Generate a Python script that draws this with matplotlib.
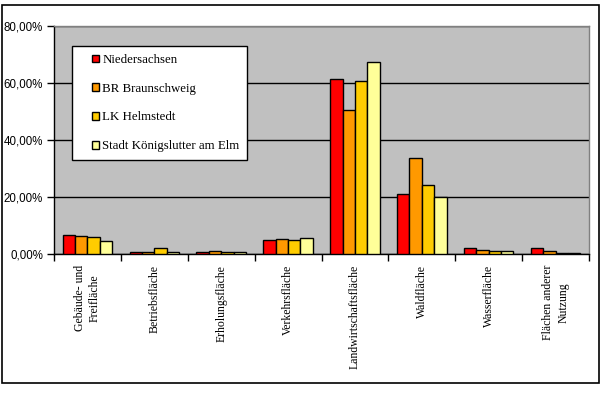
import numpy as np
import matplotlib
matplotlib.use("Agg")
import matplotlib.pyplot as plt
from matplotlib.patches import Rectangle
from matplotlib.container import BarContainer
from matplotlib.legend_handler import HandlerPatch, update_from_first_child
from matplotlib.ticker import FuncFormatter, FixedLocator

kategorien = ["Gebäude- und\nFreifläche", "Betriebsfläche", "Erholungsfläche",
              "Verkehrsfläche", "Landwirtschaftsfläche", "Waldfläche",
              "Wasserfläche", "Flächen anderer\nNutzung"]
serien = ["Niedersachsen", "BR Braunschweig", "LK Helmstedt", "Stadt Königslutter am Elm"]

niedersachsen = [6.7, 0.6, 0.6, 4.9, 61.3, 20.9, 2.1, 2.1]
br_braunschweig = [6.3, 0.6, 0.9, 5.3, 50.4, 33.6, 1.3, 0.9]
lk_helmstedt = [6.0, 2.1, 0.6, 4.9, 60.6, 24.1, 0.9, 0.3]
koenigslutter = [4.6, 0.6, 0.6, 5.6, 67.3, 19.9, 0.9, 0.3]

werte = [niedersachsen, br_braunschweig, lk_helmstedt, koenigslutter]
farben = ["#FF0000", "#FF9900", "#FFCC00", "#FFFF99"]

W, H = 605, 393
fig = plt.figure(figsize=(W / 100, H / 100), dpi=100)
fig.patch.set_facecolor("white")

# aeusserer Rahmen
fig.patches.append(Rectangle((2 / W, 1 - 383 / H), 597 / W, 378 / H, transform=fig.transFigure,
                             fill=False, edgecolor="black", linewidth=1.2))

ax = fig.add_axes([54 / W, 1 - 254 / H, 535 / W, 228 / H])
ax.set_facecolor("#C0C0C0")

x = np.arange(len(kategorien))
breite = 0.185
for i, (name, vals, farbe) in enumerate(zip(serien, werte, farben)):
    ax.bar(x + (i - 1.5) * breite, vals, width=breite, color=farbe,
           edgecolor="black", linewidth=1, label=name, zorder=3)

ax.set_xlim(-0.5, len(kategorien) - 0.5)
ax.set_ylim(0, 80)
ax.yaxis.set_major_locator(FixedLocator([0, 20, 40, 60, 80]))
ax.yaxis.set_major_formatter(FuncFormatter(lambda v, p: f"{v:.2f}%".replace(".", ",")))
ax.grid(axis="y", color="black", linewidth=1, zorder=1)
ax.set_axisbelow(True)

ax.xaxis.set_major_locator(FixedLocator(np.arange(len(kategorien) + 1) - 0.5))
ax.xaxis.set_minor_locator(FixedLocator(x))
ax.set_xticklabels([])
ax.set_xticklabels(kategorien, minor=True, rotation=90, fontsize=8.5, linespacing=1.35,
                   family="Liberation Serif", va="top", ha="center", multialignment="center")
ax.tick_params(axis="x", which="minor", length=0, pad=8)
ax.tick_params(axis="x", which="major", length=5, width=1, direction="out")
ax.tick_params(axis="y", length=5, width=1, direction="out", pad=3)
for lab in ax.get_yticklabels():
    lab.set_family("Liberation Sans")
    lab.set_fontsize(8.3)

ax.spines["left"].set_color("black")
ax.spines["bottom"].set_color("black")
ax.spines["top"].set_color("#808080")
ax.spines["right"].set_color("#808080")
for s in ax.spines.values():
    s.set_linewidth(1)


# kleines Quadrat rechts im Handle-Bereich (wie Excel)
def quadrat(legend, orig_handle, xdescent, ydescent, width, height, fontsize):
    s = 7.5 * 72 / 100
    return Rectangle((width - s - xdescent, (height - s) / 2 - ydescent), s, s)


leg = ax.legend(loc="upper left", bbox_to_anchor=(18 / 535, 1 - 20 / 228),
                prop={"family": "Liberation Serif", "size": 9.3},
                frameon=True, fancybox=False, framealpha=1, edgecolor="black",
                handlelength=1.5, handleheight=0.7, handletextpad=0.25,
                labelspacing=1.3, borderpad=0.6, borderaxespad=0,
                handler_map={BarContainer: HandlerPatch(patch_func=quadrat,
                                                        update_func=update_from_first_child)})
leg.get_frame().set_linewidth(1)
leg.set_zorder(5)

fig.savefig("out.png", dpi=100)
